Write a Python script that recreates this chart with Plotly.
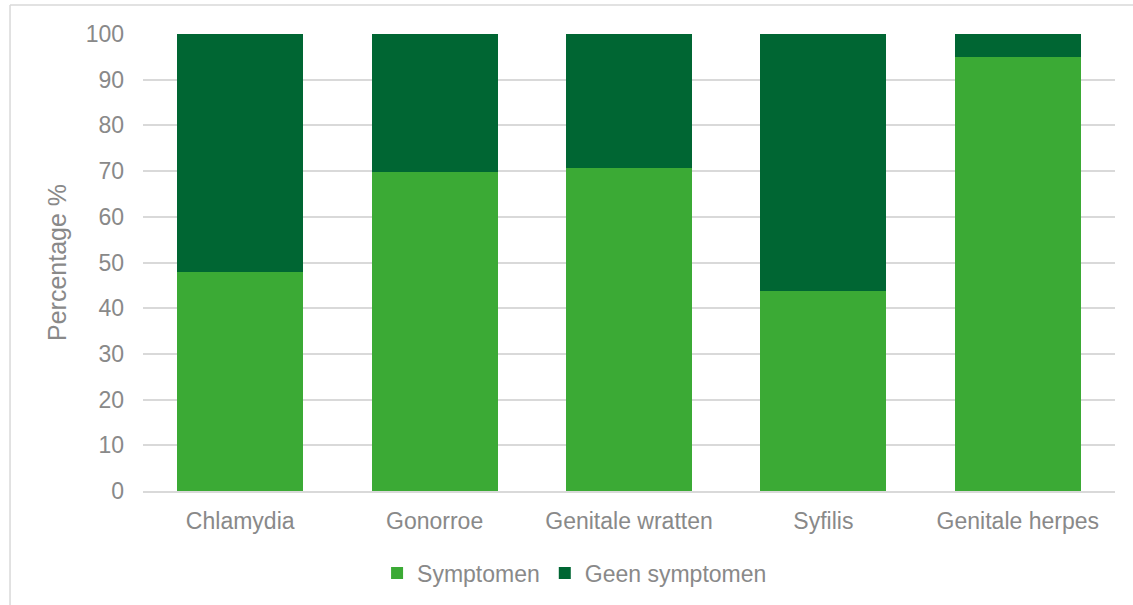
import plotly.graph_objects as go

# Aandoeningen en aandeel met/zonder symptomen (%)
categories = ["Chlamydia", "Gonorroe", "Genitale wratten", "Syfilis", "Genitale herpes"]
symptomen = [48.0, 69.8, 70.7, 43.7, 95.0]
geen_symptomen = [100 - v for v in symptomen]
y_ticks = [0, 10, 20, 30, 40, 50, 60, 70, 80, 90, 100]

LIGHT_GREEN = "#3BAA35"
DARK_GREEN = "#006633"
TEXT_GREY = "#898989"
GRID_GREY = "#D9D9D9"
FONT = "Liberation Sans, Arial, sans-serif"

fig = go.Figure()
fig.add_trace(go.Bar(
    name="Symptomen", x=categories, y=symptomen,
    marker=dict(color=LIGHT_GREEN, line=dict(width=0)),
))
fig.add_trace(go.Bar(
    name="Geen symptomen", x=categories, y=geen_symptomen,
    marker=dict(color=DARK_GREEN, line=dict(width=0)),
))

fig.update_layout(
    barmode="stack",
    bargap=0.352,
    width=1133, height=605,
    margin=dict(l=143, r=18, t=34, b=113),
    paper_bgcolor="white",
    plot_bgcolor="white",
    font=dict(family=FONT, size=23, color=TEXT_GREY),
    legend=dict(
        orientation="h",
        x=0.444, xanchor="center",
        y=-0.177, yanchor="middle",
        font=dict(size=23, color=TEXT_GREY),
        itemwidth=30,
        traceorder="normal",
        bgcolor="rgba(0,0,0,0)",
    ),
    xaxis=dict(
        showgrid=False,
        showline=True, linecolor=GRID_GREY, linewidth=1.5,
        ticks="", tickfont=dict(size=23, color=TEXT_GREY),
        ticklabelstandoff=9,
    ),
    yaxis=dict(
        range=[0, 100],
        tickvals=y_ticks,
        showgrid=True, gridcolor=GRID_GREY, gridwidth=1.5,
        zeroline=False, showline=False,
        ticks="", tickfont=dict(size=23, color=TEXT_GREY),
        ticklabelstandoff=18,
        title=dict(text="Percentage %", font=dict(size=25, color=TEXT_GREY), standoff=11),
    ),
    showlegend=True,
)

# Kader rond het diagramgebied
fig.add_shape(type="line", xref="paper", yref="paper",
              x0=-0.1368, x1=1.05, y0=1.0633, y1=1.0633,
              line=dict(color=GRID_GREY, width=1.5))
fig.add_shape(type="line", xref="paper", yref="paper",
              x0=-0.1368, x1=-0.1368, y0=1.0633, y1=-0.3,
              line=dict(color=GRID_GREY, width=1.5))

fig.write_html("out.html")
